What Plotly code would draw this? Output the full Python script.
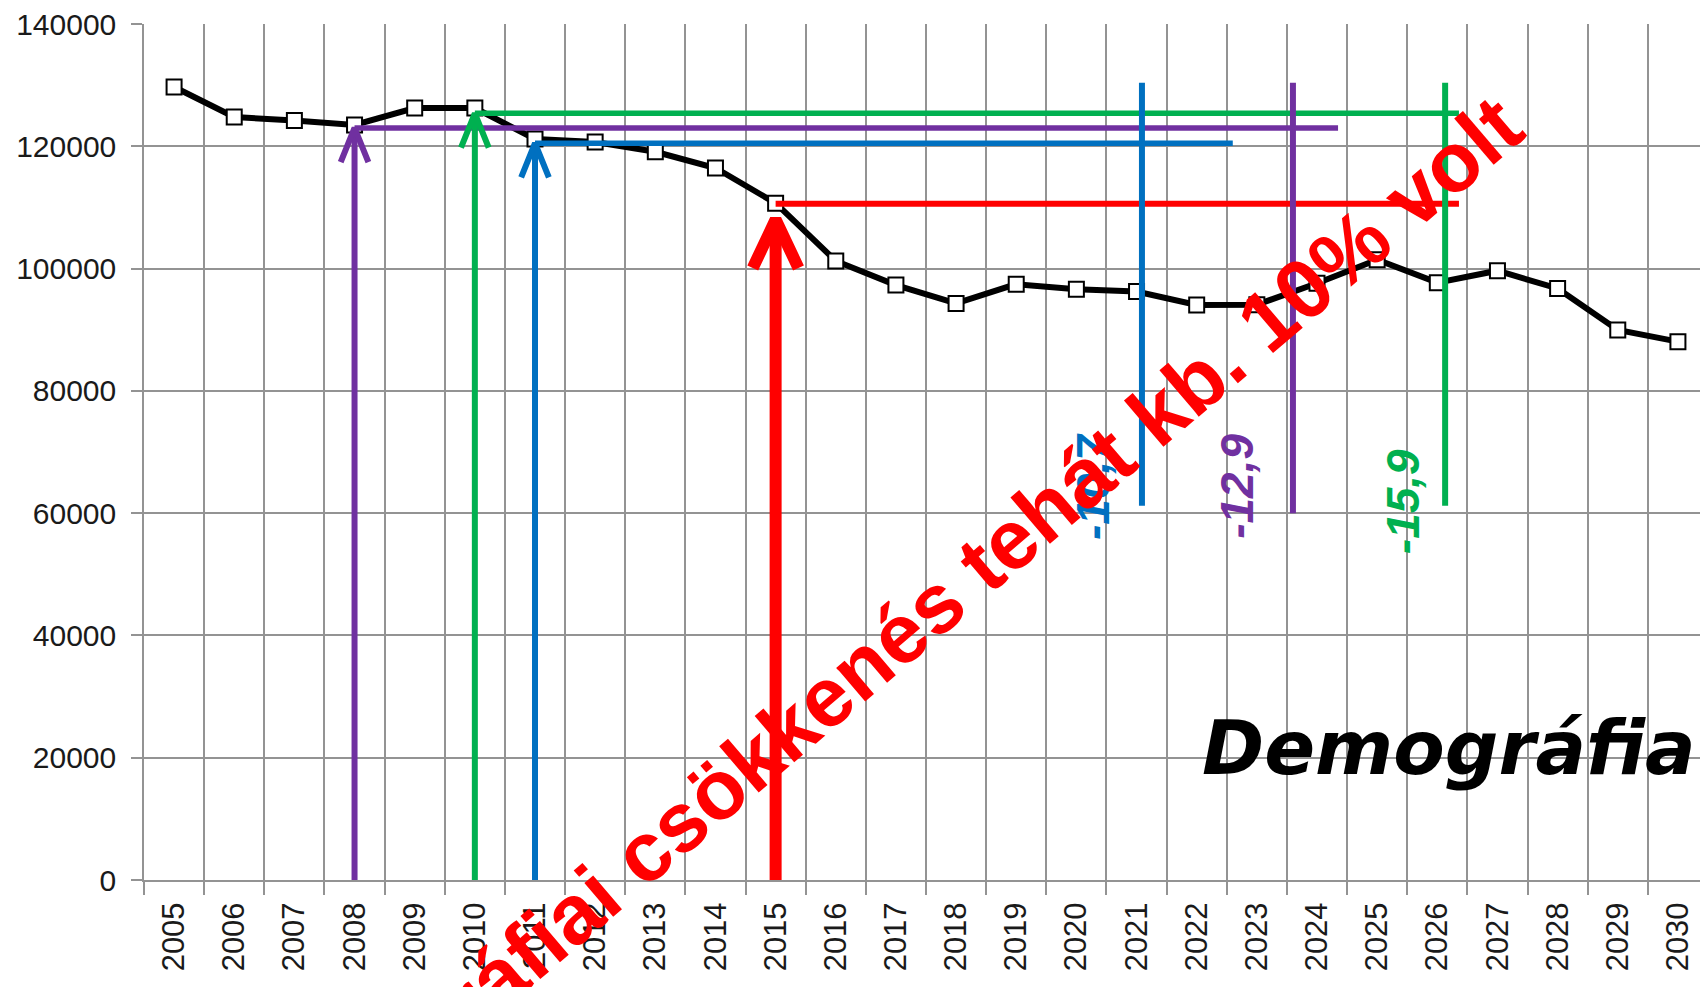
import plotly.graph_objects as go

# population series
years = list(range(2005, 2031))
population = [129700, 124800, 124200, 123500, 126250, 126250, 121200, 120700,
              119100, 116450, 110700, 101250, 97300, 94300, 97450, 96600,
              96250, 94050, 94100, 97600, 101450, 97700, 99650, 96750,
              89950, 88050]
y_ticks = [0, 20000, 40000, 60000, 80000, 100000, 120000, 140000]

# reference arrows: start year, level of the horizontal line, end of the line
arrow_years = [2008, 2010, 2011, 2015]
arrow_levels = [123000, 125400, 120500, 110600]
arrow_line_ends = [2024.35, 2026.36, 2022.6, 2026.36]
arrow_colors = ["#7030A0", "#00B050", "#0070C0", "#FF0000"]

# vertical markers with the percentage labels
marker_years = [2023.6, 2026.13, 2021.09]
marker_tops = [130400, 130400, 130400]
marker_bottoms = [60000, 61200, 61200]
marker_colors = ["#7030A0", "#00B050", "#0070C0"]
marker_labels = ["-12,9", "-15,9", "-10,7"]
label_x = [2022.67, 2025.43, 2020.28]
label_y = [64300, 61800, 64300]

grid = "#939393"

fig = go.Figure()

fig.add_trace(go.Scatter(
    x=years, y=population, mode="lines+markers",
    line=dict(color="black", width=6),
    marker=dict(symbol="square", size=15, color="white",
                line=dict(color="black", width=2)),
    showlegend=False, hoverinfo="skip"))

# arrows + horizontal reference lines
for yr, lvl, end, col in zip(arrow_years, arrow_levels, arrow_line_ends, arrow_colors):
    thick = col == "#FF0000"
    w = 12 if thick else 6
    tip = lvl - 2600 if thick else lvl
    dx = 0.38 if thick else 0.23
    dy = 7900 if thick else 5600
    fig.add_trace(go.Scatter(
        x=[yr, end], y=[lvl, lvl], mode="lines",
        line=dict(color=col, width=6 if thick else 5.5),
        showlegend=False, hoverinfo="skip"))
    fig.add_trace(go.Scatter(
        x=[yr, yr, None, yr - dx, yr, yr + dx],
        y=[0, tip, None, tip - dy, tip, tip - dy], mode="lines",
        line=dict(color=col, width=w),
        showlegend=False, hoverinfo="skip"))

for yr, top, bot, col in zip(marker_years, marker_tops, marker_bottoms, marker_colors):
    fig.add_trace(go.Scatter(
        x=[yr, yr], y=[bot, top], mode="lines",
        line=dict(color=col, width=6),
        showlegend=False, hoverinfo="skip"))

for txt, lx, ly, col in zip(marker_labels, label_x, label_y, marker_colors):
    fig.add_annotation(x=lx, y=ly, text=txt, showarrow=False, textangle=-90,
                       font=dict(family="Liberation Sans", size=46, color=col,
                                 weight="bold", style="italic"))

fig.add_annotation(x=2026.2, y=21600, text="Demográfia", showarrow=False,
                   font=dict(family="DejaVu Sans", size=75, color="black",
                             weight="bold", style="italic"))

fig.add_annotation(x=2016.63, y=36700, text="Demográfiai csökkenés tehát kb. 10% volt",
                   showarrow=False, textangle=-40.5,
                   font=dict(family="Liberation Sans", size=84, color="#FF0000",
                             weight="bold"))

# the page puts the figure 8px from the top-left corner, margins account for it
fig.update_layout(
    width=1700, height=979,
    margin=dict(l=136, r=0, t=16, b=107),
    plot_bgcolor="white", paper_bgcolor="white",
    font=dict(family="Liberation Sans", color="#1a1a1a"),
    xaxis=dict(
        range=[2004.5, 2030.5], tickmode="array", tickvals=years,
        ticktext=[str(y) for y in years], tickangle=-90,
        tickfont=dict(size=31), showgrid=False, zeroline=False,
        ticks="outside", ticklen=8, tickcolor="rgba(0,0,0,0)",
        ticklabelstandoff=0,
        showline=True, linecolor=grid, linewidth=2,
        minor=dict(tickmode="array", tickvals=[y - 0.5 for y in years] + [2030.5],
                   showgrid=True, gridcolor=grid, gridwidth=1.5,
                   ticks="outside", ticklen=13, tickcolor=grid, tickwidth=1.5)),
    yaxis=dict(
        range=[0, 140000], tickmode="array", tickvals=y_ticks,
        ticktext=[str(v) for v in y_ticks], tickfont=dict(size=30),
        ticklabeloverflow="allow",
        showgrid=True, gridcolor=grid, gridwidth=1.5, zeroline=False,
        ticks="outside", ticklen=11, tickcolor=grid, tickwidth=1.5,
        ticklabelstandoff=9, showline=True, linecolor=grid, linewidth=1.5,
        mirror=False),
)

fig.write_html("out.html")
